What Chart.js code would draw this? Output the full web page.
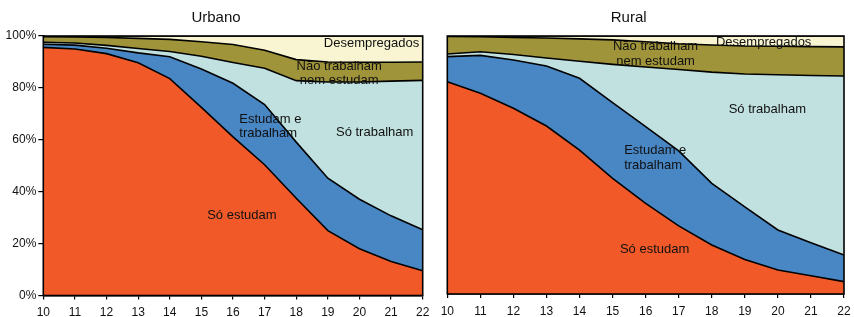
<!DOCTYPE html>
<html>
<head>
<meta charset="utf-8">
<script src="https://cdn.jsdelivr.net/npm/chart.js@4/dist/chart.umd.min.js"></script>
<style>
  html, body { margin: 0; padding: 0; background: #ffffff; }
  #wrap { position: relative; width: 854px; height: 317px; overflow: hidden; }
  .c { position: absolute; top: 0; }
</style>
</head>
<body>
<div id="wrap">
  <div class="c" style="left:0px;width:434px;height:317px;"><canvas id="urb"></canvas></div>
  <div class="c" style="left:434px;width:420px;height:317px;"><canvas id="rur"></canvas></div>
</div>
<script>
// ---- data (shares in %, by age) ----
const ages = ['10','11','12','13','14','15','16','17','18','19','20','21','22'];
const seriesNames = ['Só estudam', 'Estudam e trabalham', 'Só trabalham', 'Não trabalham nem estudam', 'Desempregados'];
const panelTitles = ['Urbano', 'Rural'];
const yTicks = [0, 20, 40, 60, 80, 100];

// Urbano
const urbSoEstudam   = [95.6, 95.0, 93.2, 89.7, 83.6, 72.5, 61.1, 50.4, 37.5, 25.0, 18.0, 13.1, 9.5];
const urbEstudTrab   = [1.2, 1.5, 2.1, 3.8, 8.4, 14.8, 20.7, 23.2, 21.6, 20.2, 19.1, 17.6, 15.8];
const urbSoTrabalham = [0.8, 0.8, 1.1, 1.7, 2.0, 4.9, 8.0, 14.0, 23.7, 37.1, 45.2, 51.9, 57.6];
const urbNemNem      = [2.1, 2.3, 3.0, 3.9, 4.7, 5.6, 6.9, 6.9, 8.1, 7.7, 7.6, 7.3, 7.1];
const urbDesemp      = [0.3, 0.4, 0.6, 0.9, 1.3, 2.2, 3.3, 5.5, 9.1, 10.0, 10.1, 10.1, 10.0];

// Rural
const rurSoEstudam   = [82.3, 77.8, 72.0, 65.1, 55.8, 44.8, 35.1, 26.4, 19.0, 13.4, 9.3, 7.1, 4.8];
const rurEstudTrab   = [9.7, 14.7, 18.7, 23.3, 27.8, 29.4, 29.8, 29.1, 23.9, 20.4, 15.5, 12.8, 10.3];
const rurSoTrabalham = [1.0, 1.4, 2.1, 3.1, 6.6, 14.8, 23.1, 31.5, 43.1, 51.5, 60.2, 64.8, 69.4];
const rurNemNem      = [6.8, 5.8, 6.6, 7.7, 8.7, 9.5, 9.8, 10.0, 10.5, 10.8, 11.0, 11.2, 11.3];
const rurDesemp      = [0.2, 0.3, 0.6, 0.8, 1.1, 1.5, 2.2, 3.0, 3.5, 3.9, 4.0, 4.1, 4.2];

// In-chart labels (lines, age position, % position, alignment)
const urbLabels = [
  { lines: ['Só estudam'], x: 16.28, y: 30.8, align: 'center' },
  { lines: ['Estudam e', 'trabalham'], x: 16.2, y: 65.2, align: 'left' },
  { lines: ['Só trabalham'], x: 20.48, y: 62.9, align: 'center' },
  { lines: ['Não trabalham', 'nem estudam'], x: 19.36, y: 85.6, align: 'center' },
  { lines: ['Desempregados'], x: 20.38, y: 97.0, align: 'center' }
];
const rurLabels = [
  { lines: ['Só estudam'], x: 16.27, y: 17.4, align: 'center' },
  { lines: ['Estudam e', 'trabalham'], x: 15.35, y: 52.8, align: 'left' },
  { lines: ['Só trabalham'], x: 19.68, y: 71.7, align: 'center' },
  { lines: ['Não trabalham', 'nem estudam'], x: 16.30, y: 93.0, align: 'center' },
  { lines: ['Desempregados'], x: 19.57, y: 97.6, align: 'center' }
];

const colors = ['#F15A28', '#4886C4', '#C0E1E0', '#A0943A', '#F9F5D3'];
const FONT = '"Liberation Sans", Arial, Helvetica, sans-serif';
const TXT = '#111111';

function makeDatasets(arrs) {
  return arrs.map((d, i) => ({
    label: seriesNames[i],
    data: d,
    backgroundColor: colors[i],
    borderColor: '#000000',
    borderWidth: 1.6,
    pointRadius: 0,
    tension: 0,
    fill: i === 0 ? 'origin' : '-1'
  }));
}

const decorPlugin = {
  id: 'decor',
  afterDatasetsDraw(chart, args, opts) {
    const ctx = chart.ctx;
    const a = chart.chartArea;
    const xs = chart.scales.x, ys = chart.scales.y;
    ctx.save();
    ctx.fillStyle = TXT;
    ctx.font = '13px ' + FONT;
    ctx.textBaseline = 'middle';
    opts.labels.forEach(l => {
      const px = xs.getPixelForValue(l.x - 10);
      const py = ys.getPixelForValue(l.y);
      const lh = 14.7;
      const n = l.lines.length;
      l.lines.forEach((t, k) => {
        ctx.textAlign = l.align;
        ctx.fillText(t, px, py + (k - (n - 1) / 2) * lh);
      });
    });
    ctx.strokeStyle = '#000000';
    ctx.lineWidth = 1.6;
    ctx.strokeRect(a.left, a.top, a.right - a.left, a.bottom - a.top);
    ctx.font = '15px ' + FONT;
    ctx.textAlign = 'center';
    ctx.textBaseline = 'middle';
    ctx.fillStyle = TXT;
    ctx.fillText(opts.title, (a.left + a.right) / 2 - 17, 17.5);
    ctx.restore();
  }
};

function makeChart(id, arrs, labels, title, showY, yWidth, padding) {
  return new Chart(document.getElementById(id), {
    type: 'line',
    data: { labels: ages, datasets: makeDatasets(arrs) },
    options: {
      responsive: true,
      maintainAspectRatio: false,
      animation: false,
      layout: { padding: padding },
      plugins: {
        legend: { display: false },
        tooltip: { enabled: false },
        title: { display: false },
        decor: { labels: labels, title: title }
      },
      scales: {
        x: {
          offset: false,
          grid: { display: true, drawOnChartArea: false, drawTicks: true, tickLength: 4, color: '#000', lineWidth: 1.2 },
          border: { display: true, color: '#000', width: 1.6 },
          ticks: { color: TXT, font: { family: FONT, size: 12 }, padding: 6, maxRotation: 0, autoSkip: false },
          afterFit: s => { s.height = 21.5; s.paddingLeft = 0; s.paddingRight = 0; }
        },
        y: {
          display: showY,
          stacked: true,
          min: 0, max: 100,
          afterBuildTicks: s => { s.ticks = yTicks.map(v => ({ value: v })); },
          grid: { display: true, drawOnChartArea: false, drawTicks: true, tickLength: 5, color: '#000', lineWidth: 1.2 },
          border: { display: true, color: '#000', width: 1.6 },
          ticks: { color: TXT, font: { family: FONT, size: 12 }, padding: 2, callback: v => v + '%' },
          afterFit: s => { s.width = yWidth; s.paddingTop = 0; s.paddingBottom = 0; }
        }
      }
    },
    plugins: [decorPlugin]
  });
}

makeChart('urb', [urbSoEstudam, urbEstudTrab, urbSoTrabalham, urbNemNem, urbDesemp], urbLabels, panelTitles[0], true, 43.3,
  { left: 0, right: 11.3, top: 36, bottom: 0 });
makeChart('rur', [rurSoEstudam, rurEstudTrab, rurSoTrabalham, rurNemNem, rurDesemp], rurLabels, panelTitles[1], false, 0,
  { left: 13.3, right: 10, top: 36, bottom: 1.5 });
</script>
</body>
</html>
